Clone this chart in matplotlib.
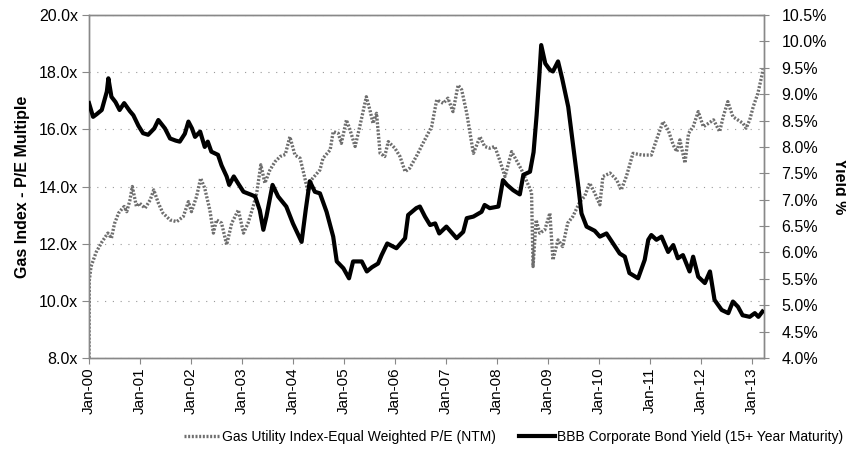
import matplotlib
matplotlib.use("Agg")
import matplotlib.pyplot as plt
import numpy as np

plt.rcParams['font.family'] = ['Liberation Sans', 'DejaVu Sans']

# ---- data (time in years since Jan-2000) ----
pe_t = [0.0, 0.005, 0.04, 0.14, 0.25, 0.37, 0.44, 0.5, 0.58, 0.64, 0.69, 0.74, 0.8, 0.85,
        0.93, 0.99, 1.1, 1.2, 1.27, 1.36, 1.45, 1.59, 1.72, 1.85, 1.95, 2.01, 2.11, 2.19,
        2.27, 2.37, 2.44, 2.5, 2.6, 2.7, 2.8, 2.93, 3.03, 3.12, 3.22, 3.29, 3.37, 3.45,
        3.55, 3.65, 3.75, 3.85, 3.94, 4.04, 4.14, 4.22, 4.3, 4.36, 4.53, 4.59, 4.73, 4.79,
        4.89, 4.95, 5.05, 5.12, 5.22, 5.31, 5.44, 5.51, 5.57, 5.64, 5.71, 5.8, 5.87, 6.0,
        6.1, 6.2, 6.29, 6.42, 6.55, 6.72, 6.82, 6.95, 7.04, 7.14, 7.24, 7.31, 7.41, 7.54,
        7.67, 7.76, 7.86, 7.96, 8.06, 8.16, 8.29, 8.38, 8.48, 8.6, 8.68, 8.71, 8.77, 8.84,
        8.94, 9.04, 9.1, 9.2, 9.29, 9.39, 9.49, 9.63, 9.72, 9.82, 9.92, 10.02, 10.08, 10.22,
        10.35, 10.44, 10.54, 10.67, 10.85, 11.03, 11.13, 11.26, 11.36, 11.46, 11.53, 11.59,
        11.69, 11.76, 11.85, 11.95, 12.05, 12.25, 12.37, 12.44, 12.53, 12.63, 12.83, 12.89,
        12.96, 13.03, 13.12, 13.2, 13.22]
pe_val = [8.0, 10.7, 11.2, 11.7, 12.05, 12.37, 12.19, 12.7, 13.07, 13.2, 13.3, 13.12, 13.5, 14.0,
          13.3, 13.42, 13.24, 13.53, 13.88, 13.42, 13.07, 12.83, 12.77, 12.95, 13.47, 13.12, 13.65, 14.29,
          13.94, 13.18, 12.37, 12.83, 12.72, 11.96, 12.72, 13.18, 12.37, 12.72, 13.3, 13.77, 14.76, 14.12,
          14.58, 14.87, 15.05, 15.12, 15.74, 15.10, 14.99, 14.4, 13.77, 14.23, 14.58, 14.99, 15.28, 15.92,
          15.86, 15.51, 16.33, 15.98, 15.40, 16.09, 17.14, 16.68, 16.21, 16.56, 15.16, 15.05, 15.57, 15.34,
          15.05, 14.52, 14.64, 15.05, 15.51, 16.09, 17.03, 16.91, 17.09, 16.62, 17.55, 17.38, 16.56, 15.16,
          15.74, 15.40, 15.34, 15.40, 14.90, 14.35, 15.22, 14.93, 14.6, 14.12, 13.8, 11.2, 12.83, 12.37,
          12.48, 13.07, 11.43, 12.13, 11.9, 12.72, 12.95, 13.47, 13.65, 14.12, 13.77, 13.36, 14.35, 14.47,
          14.23, 13.88, 14.35, 15.16, 15.1, 15.10, 15.63, 16.27, 15.98, 15.45, 15.22, 15.63,
          14.82, 15.86, 16.09, 16.62, 16.09, 16.33, 15.92, 16.44, 16.97, 16.44, 16.21, 16.04,
          16.33, 16.8, 17.26, 17.9, 18.1]

bbb_t = [0.0, 0.08, 0.15, 0.25, 0.35, 0.38, 0.44, 0.52, 0.6, 0.69, 0.8, 0.87, 0.97, 1.06, 1.16,
         1.28, 1.36, 1.49, 1.59, 1.7, 1.78, 1.88, 1.95, 2.02, 2.08, 2.18, 2.27, 2.33, 2.4, 2.53,
         2.6, 2.7, 2.75, 2.84, 2.93, 3.03, 3.19, 3.26, 3.35, 3.42, 3.48, 3.6, 3.71, 3.87, 4.0,
         4.17, 4.25, 4.33, 4.43, 4.53, 4.66, 4.79, 4.86, 4.99, 5.1, 5.18, 5.35, 5.45, 5.55, 5.67,
         5.74, 5.85, 6.03, 6.2, 6.26, 6.42, 6.49, 6.59, 6.69, 6.79, 6.87, 7.01, 7.21, 7.34, 7.41,
         7.54, 7.7, 7.76, 7.86, 8.03, 8.12, 8.2, 8.32, 8.45, 8.52, 8.65, 8.72, 8.78, 8.83, 8.87,
         8.95, 9.04, 9.1, 9.2, 9.28, 9.4, 9.5, 9.59, 9.66, 9.76, 9.92, 10.02, 10.15, 10.28, 10.41,
         10.51, 10.6, 10.77, 10.9, 10.97, 11.03, 11.13, 11.23, 11.36, 11.46, 11.55, 11.65, 11.78,
         11.85, 11.95, 12.08, 12.18, 12.27, 12.41, 12.54, 12.63, 12.73, 12.82, 12.96, 13.06,
         13.13, 13.21]
bbb_val = [8.83, 8.57, 8.62, 8.70, 9.05, 9.30, 8.95, 8.85, 8.70, 8.83, 8.68, 8.60, 8.40, 8.26, 8.23,
           8.35, 8.51, 8.35, 8.16, 8.12, 8.10, 8.25, 8.48, 8.35, 8.19, 8.29, 8.00, 8.10, 7.91, 7.85,
           7.65, 7.44, 7.28, 7.44, 7.30, 7.15, 7.09, 7.06, 6.80, 6.43, 6.68, 7.28, 7.06, 6.87, 6.55,
           6.20, 6.80, 7.35, 7.15, 7.12, 6.77, 6.30, 5.83, 5.70, 5.51, 5.83, 5.83, 5.64, 5.72, 5.79,
           5.95, 6.17, 6.08, 6.27, 6.71, 6.84, 6.87, 6.68, 6.52, 6.55, 6.36, 6.49, 6.27, 6.39, 6.65,
           6.68, 6.77, 6.90, 6.84, 6.87, 7.37, 7.28, 7.18, 7.10, 7.47, 7.53, 7.90, 8.60, 9.30, 9.93,
           9.58, 9.46, 9.43, 9.62, 9.30, 8.76, 8.00, 7.31, 6.74, 6.49, 6.41, 6.30, 6.36, 6.17, 5.98,
           5.92, 5.61, 5.51, 5.86, 6.24, 6.33, 6.24, 6.30, 6.01, 6.14, 5.89, 5.95, 5.64,
           5.92, 5.54, 5.42, 5.64, 5.10, 4.91, 4.85, 5.07, 4.97, 4.81, 4.78, 4.85,
           4.78, 4.88]

year_ticks = list(range(2000, 2014))
year_labels = ["Jan-%02d" % (y % 100) for y in year_ticks]
left_ticks = [8, 10, 12, 14, 16, 18, 20]
right_ticks = [4.0, 4.5, 5.0, 5.5, 6.0, 6.5, 7.0, 7.5, 8.0, 8.5, 9.0, 9.5, 10.0, 10.5]

pe_x = 2000 + np.array(pe_t)
bbb_x = 2000 + np.array(bbb_t)

fig = plt.figure(figsize=(8.46, 4.53), dpi=100)
ax = fig.add_axes([89/846, 1-358/453, (764-89)/846, (358-15)/453])
ax2 = ax.twinx()

spine_col = '#888888'
l1, = ax.plot(pe_x, pe_val, color='#6e6e6e', lw=2.4, linestyle=(0, (0.6, 0.5)),
              label='Gas Utility Index-Equal Weighted P/E (NTM)', zorder=3)
l2, = ax2.plot(bbb_x, bbb_val, color='black', lw=3.0, solid_joinstyle='round',
               label='BBB Corporate Bond Yield (15+ Year Maturity)', zorder=4)

ax.set_xlim(2000.0, 2013.24)
ax.set_ylim(8, 20)
ax2.set_ylim(4.0, 10.5)

ax.set_xticks(year_ticks)
ax.set_xticklabels(year_labels, rotation=90, fontsize=11)
ax.set_yticks(left_ticks)
ax.set_yticklabels(["%.1fx" % v for v in left_ticks], fontsize=11.5)
ax2.set_yticks(right_ticks)
ax2.set_yticklabels(["%.1f%%" % v for v in right_ticks], fontsize=11.5)

for a in (ax, ax2):
    for s in a.spines.values():
        s.set_color(spine_col)
        s.set_linewidth(1.0)
ax.tick_params(axis='y', direction='out', length=5, color=spine_col, pad=3)
ax.tick_params(axis='x', direction='out', length=4, color=spine_col, pad=3)
ax2.tick_params(axis='y', direction='inout', length=7, color=spine_col, pad=9)

ax.grid(axis='y', color='#999999', linestyle=(0, (1, 6)), linewidth=0.8)
ax.set_axisbelow(True)

ax.set_ylabel('Gas Index - P/E Multiple', fontsize=11.5, fontweight='bold', labelpad=6)
ax2.set_ylabel('Yield %', fontsize=11.5, fontweight='bold', rotation=270, labelpad=4,
               va='bottom')

fig.legend(handles=[l1, l2], loc='center', bbox_to_anchor=(0.607, 0.036), ncol=2,
           frameon=False, fontsize=10, handlelength=2.6, handletextpad=0.2, columnspacing=1.6)

fig.savefig('out.png', dpi=100)
